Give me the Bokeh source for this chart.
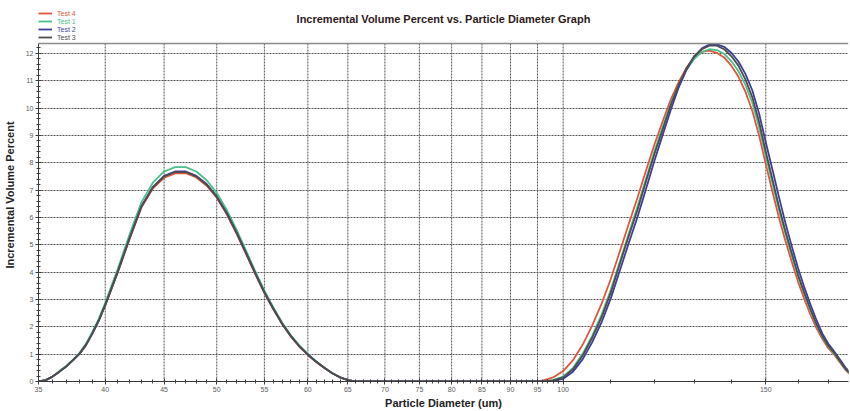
from bokeh.plotting import figure
from bokeh.models import (Range1d, FixedTicker, Legend, LegendItem, ColumnDataSource,
                          Span, Label)
from bokeh.embed import file_html
from bokeh.resources import INLINE

# ---------------- data ----------------
diameter_um = [35, 35.5, 36, 36.5, 37, 37.5, 38, 38.5, 39, 39.5, 40, 41, 42, 43, 44, 45, 46, 47, 48, 49,
               50, 51, 52, 53, 54, 55, 56, 57, 58, 59, 60, 61, 62, 63, 64, 65, 66,
               70, 80, 90, 95,
               96, 98, 100, 102, 104, 106, 108, 110, 112, 114, 116, 118, 120, 122, 124, 126, 128, 130,
               132, 134, 136, 138, 140, 142, 144, 146, 148, 150, 152, 154, 156, 158, 160, 162, 164,
               166, 168, 170, 172, 174, 176, 178]

test3 = [0.00, 0.05, 0.18, 0.36, 0.55, 0.78, 1.02, 1.35, 1.78, 2.25, 2.80, 4.00, 5.25, 6.40, 7.10, 7.50, 7.66, 7.66, 7.50, 7.20,
         6.75, 6.15, 5.45, 4.70, 3.95, 3.25, 2.65, 2.10, 1.65, 1.28, 0.98, 0.72, 0.50, 0.30, 0.15, 0.05, 0.00,
         0.00, 0.00, 0.00, 0.00,
         0.00, 0.04, 0.15, 0.45, 0.95, 1.60, 2.35, 3.25, 4.30, 5.30, 6.25, 7.30, 8.30, 9.20, 10.10, 10.85, 11.45, 11.90,
         12.15, 12.28, 12.28, 12.15, 11.90, 11.55, 11.05, 10.40, 9.50, 8.40, 7.40, 6.40, 5.50, 4.70, 3.90, 3.25, 2.65,
         2.10, 1.65, 1.30, 1.05, 0.75, 0.45, 0.25]

test2 = [0.00, 0.05, 0.18, 0.36, 0.55, 0.78, 1.02, 1.34, 1.77, 2.24, 2.79, 3.99, 5.24, 6.40, 7.11, 7.52, 7.68, 7.68, 7.52, 7.22,
         6.77, 6.17, 5.47, 4.72, 3.97, 3.27, 2.66, 2.11, 1.66, 1.29, 0.99, 0.73, 0.50, 0.30, 0.15, 0.05, 0.00,
         0.00, 0.00, 0.00, 0.00,
         0.00, 0.02, 0.10, 0.36, 0.82, 1.44, 2.17, 3.04, 4.05, 5.05, 6.00, 7.02, 8.05, 9.00, 9.92, 10.75, 11.40, 11.88,
         12.18, 12.32, 12.33, 12.24, 12.02, 11.70, 11.25, 10.65, 9.80, 8.75, 7.75, 6.75, 5.80, 4.95, 4.15, 3.45, 2.82,
         2.25, 1.75, 1.38, 1.10, 0.80, 0.50, 0.28]

test1 = [0.00, 0.05, 0.18, 0.39, 0.57, 0.80, 1.05, 1.39, 1.83, 2.31, 2.88, 4.10, 5.38, 6.55, 7.27, 7.68, 7.84, 7.84, 7.68, 7.36,
         6.90, 6.28, 5.56, 4.80, 4.04, 3.33, 2.71, 2.15, 1.69, 1.31, 1.00, 0.74, 0.51, 0.31, 0.15, 0.05, 0.00,
         0.00, 0.00, 0.00, 0.00,
         0.00, 0.05, 0.18, 0.50, 1.02, 1.68, 2.45, 3.35, 4.38, 5.40, 6.38, 7.40, 8.40, 9.30, 10.15, 10.85, 11.40, 11.80,
         12.05, 12.15, 12.12, 11.98, 11.72, 11.35, 10.85, 10.20, 9.30, 8.25, 7.25, 6.28, 5.40, 4.60, 3.85, 3.20, 2.60,
         2.06, 1.62, 1.28, 1.02, 0.73, 0.44, 0.24]

test4 = [0.00, 0.05, 0.18, 0.36, 0.55, 0.77, 1.01, 1.34, 1.77, 2.24, 2.78, 3.97, 5.21, 6.36, 7.06, 7.45, 7.61, 7.62, 7.46, 7.16,
         6.72, 6.12, 5.42, 4.68, 3.93, 3.23, 2.64, 2.09, 1.64, 1.27, 0.97, 0.71, 0.49, 0.30, 0.15, 0.05, 0.00,
         0.00, 0.00, 0.00, 0.00,
         0.03, 0.15, 0.38, 0.78, 1.35, 2.05, 2.85, 3.75, 4.75, 5.75, 6.70, 7.70, 8.65, 9.50, 10.30, 10.95, 11.48, 11.85,
         12.05, 12.10, 12.02, 11.85, 11.55, 11.15, 10.60, 9.90, 9.00, 7.95, 6.95, 6.00, 5.15, 4.38, 3.65, 3.02, 2.45,
         1.95, 1.55, 1.22, 0.98, 0.70, 0.42, 0.22]

series_names = ["Test 4", "Test 1", "Test 2", "Test 3"]
series_values = [test4, test1, test2, test3]
series_colors = ["#e2553a", "#4cc08a", "#3b3f9c", "#4d4d4d"]

x_major = [35, 40, 45, 50, 55, 60, 65, 70, 75, 80, 85, 90, 95, 100, 150]
x_minor = [v for v in range(36, 100) if v % 5 != 0] + [110, 120, 130, 140, 160, 170]
y_major = list(range(0, 13))
y_minor = [i / 5 for i in range(0, 62)]

TITLE = "Incremental Volume Percent vs. Particle Diameter Graph"
X_LABEL = "Particle Diameter (um)"
Y_LABEL = "Incremental Volume Percent"

X_MIN, X_MAX = 35, 177
Y_TOP = 12.36          # top edge of the graph box
Y_VIEW = 13.64         # extra room above the box for legend and title
TITLE_Y = 13.27

# ---------------- figure ----------------
FONT = "Liberation Sans"
p = figure(width=850, height=411, x_axis_type="log",
           x_range=Range1d(X_MIN, X_MAX), y_range=Range1d(0, Y_VIEW),
           output_backend="svg", toolbar_location=None,
           min_border_left=38, min_border_right=2, min_border_top=8, min_border_bottom=29,
           title=None)

p.background_fill_color = "white"
p.border_fill_color = "white"
p.outline_line_color = None

for ax in (p.xaxis[0], p.yaxis[0]):
    ax.axis_line_color = "#3a3a3a"
    ax.major_tick_line_color = "#3a3a3a"
    ax.minor_tick_line_color = "#3a3a3a"
    ax.major_tick_in = 3
    ax.major_tick_out = 3
    ax.minor_tick_in = 2
    ax.minor_tick_out = 2
    ax.major_label_text_font = FONT
    ax.major_label_text_font_size = "7px"
    ax.major_label_text_color = "#5a5a5a"
    ax.major_label_standoff = 2
    ax.axis_label_text_font = FONT
    ax.axis_label_text_font_size = "11px"
    ax.axis_label_text_font_style = "bold"
    ax.axis_label_text_color = "#222222"

p.xaxis.axis_label_standoff = 2
p.yaxis.axis_label_standoff = 7
p.yaxis.bounds = (0, Y_TOP)
p.xaxis.ticker = FixedTicker(ticks=x_major, minor_ticks=x_minor)
p.xaxis.major_label_overrides = {v: str(v) for v in x_major}
p.yaxis.ticker = FixedTicker(ticks=y_major, minor_ticks=y_minor)
p.xaxis.axis_label = X_LABEL
p.yaxis.axis_label = Y_LABEL

# horizontal grid from the axis ticker
p.ygrid.grid_line_color = "#555555"
p.ygrid.grid_line_dash = "2 1"
p.ygrid.grid_line_width = 1
# vertical grid lines only inside the graph box
p.xgrid.visible = False
p.segment(x0=x_major, x1=x_major, y0=[0] * len(x_major), y1=[Y_TOP] * len(x_major),
          line_color="#555555", line_dash="2 1", line_width=1)

# top edge of the box
p.add_layout(Span(location=Y_TOP, dimension="width", line_color="#8a8a8a", line_width=1.5))

renderers = {}
for name, vals, col in zip(series_names, series_values, series_colors):
    src = ColumnDataSource(dict(x=diameter_um, y=vals))
    renderers[name] = p.line("x", "y", source=src, line_color=col, line_width=1.8,
                             line_join="round")

# draw order: red, green, blue, then gray on top
grid_r = [r for r in p.renderers if r not in renderers.values()]
p.renderers = grid_r + [renderers["Test 4"], renderers["Test 1"], renderers["Test 2"], renderers["Test 3"]]

# title
p.add_layout(Label(x=(X_MIN * X_MAX) ** 0.5, y=TITLE_Y, text=TITLE, text_align="center",
                   text_baseline="middle", text_font=FONT, text_font_size="11px",
                   text_font_style="bold", text_color="#2e1a1a"))

# legend entries, one legend each so every label keeps its own colour
for i, (name, col) in enumerate(zip(series_names, series_colors)):
    lg = Legend(items=[LegendItem(label=name, renderers=[renderers[name]])],
                location=(0, 364 - 8 * i), orientation="vertical",
                border_line_color=None, background_fill_alpha=0,
                padding=0, margin=0, spacing=0,
                glyph_width=14, glyph_height=8, label_height=8,
                label_standoff=5,
                label_text_font=FONT, label_text_font_size="7px",
                label_text_color=col)
    p.add_layout(lg, "center")

open("out.html", "w").write(file_html(p, INLINE))
